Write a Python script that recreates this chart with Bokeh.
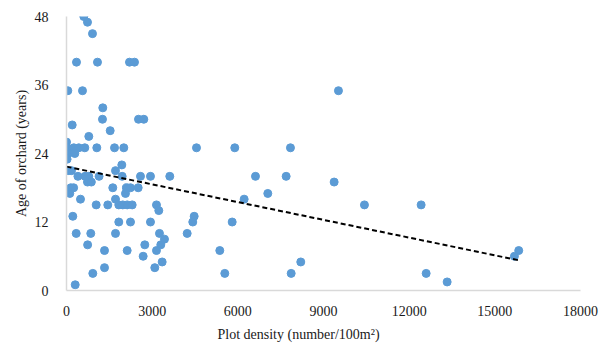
from bokeh.plotting import figure
from bokeh.models import ColumnDataSource, FixedTicker, Range1d, Title
from bokeh.embed import file_html
from bokeh.resources import INLINE

# Plot density (number/100m2) and orchard age (years)
density = [606, 735, 910, 350, 1085, 2206, 2381, 46, 560, 1271,
           1260, 2521, 2707, 200, 1530, 781, 0, 20, 256, 431,
           641, 1061, 1681, 2007, 60, 291, 20, 1937, 1716, 60,
           175, 1950, 400, 650, 780, 1140, 2591, 2941, 3617, 735,
           870, 150, 250, 1621, 2100, 2241, 2510, 115, 2066, 490,
           1716, 1040, 1446, 1831, 1971, 2125, 2300, 3151, 3232, 221,
           1831, 2241, 2941, 340, 850, 1716, 3256, 3431, 740, 2742,
           3302, 1331, 2125, 3151, 2685, 3350, 1331, 3092, 921, 305,
           4471, 4422, 4226, 5802, 5368, 5543, 6221, 4552, 5893, 7843,
           6618, 7692, 9373, 7049, 10434, 9524, 12419, 8204, 7868, 12595,
           13330, 15837, 15686]
age = [48, 47, 45, 40, 40, 40, 40, 35, 35, 32,
       30, 30, 30, 29, 28, 27, 26, 25, 25, 25,
       25, 25, 25, 25, 24, 24, 23, 22, 21, 21,
       21, 20, 20, 20, 20, 20, 20, 20, 20, 19,
       19, 18, 18, 18, 18, 18, 18, 17, 17, 16,
       16, 15, 15, 15, 15, 15, 15, 15, 14, 13,
       12, 12, 12, 10, 10, 10, 10, 9, 8, 8,
       8, 7, 7, 7, 6, 5, 4, 4, 3, 1,
       13, 12, 10, 12, 7, 3, 16, 25, 25, 25,
       20, 20, 19, 17, 15, 35, 15, 5, 3, 3,
       1.5, 7, 6]

# Linear trend line
trend_intercept = 21.7
trend_slope = -0.001036

x_ticks = [0, 3000, 6000, 9000, 12000, 15000, 18000]
y_ticks = [0, 12, 24, 36, 48]

src = ColumnDataSource(dict(x=density, y=age))
tx = [0, max(density)]
trend = ColumnDataSource(dict(x=tx, y=[trend_intercept + trend_slope * v for v in tx]))

p = figure(width=600, height=348, output_backend="svg", toolbar_location=None,
           x_range=Range1d(0, 18000), y_range=Range1d(0, 48),
           min_border_left=66, min_border_right=20, min_border_top=16, min_border_bottom=58)
p.outline_line_color = None
p.xgrid.visible = False
p.ygrid.visible = False

p.scatter("x", "y", source=src, size=8, fill_color="#5B9BD5", line_color="#5B9BD5")
p.line("x", "y", source=trend, line_color="black", line_width=2, line_dash="5 3")

for ax in (p.xaxis[0], p.yaxis[0]):
    ax.axis_line_color = "#d9d9d9"
    ax.axis_line_width = 1.5
    ax.major_tick_line_color = None
    ax.minor_tick_line_color = None
    ax.major_label_text_font = "Liberation Serif"
    ax.major_label_text_font_size = "14px"
    ax.major_label_text_color = "#1a1a1a"

p.xaxis.ticker = FixedTicker(ticks=x_ticks)
p.yaxis.ticker = FixedTicker(ticks=y_ticks)
p.xaxis.major_label_standoff = 9
p.yaxis.major_label_standoff = 12

xt = Title(text="Plot density (number/100m²)", align="left", offset=151,
           text_font="Liberation Serif", text_font_size="14px",
           text_font_style="normal", text_color="#1a1a1a", standoff=12)
yt = Title(text="Age of orchard (years)", align="center", offset=-20,
           text_font="Liberation Serif", text_font_size="14px",
           text_font_style="normal", text_color="#1a1a1a", standoff=6)
p.add_layout(xt, "below")
p.add_layout(yt, "left")

open("out.html", "w").write(file_html(p, INLINE))
